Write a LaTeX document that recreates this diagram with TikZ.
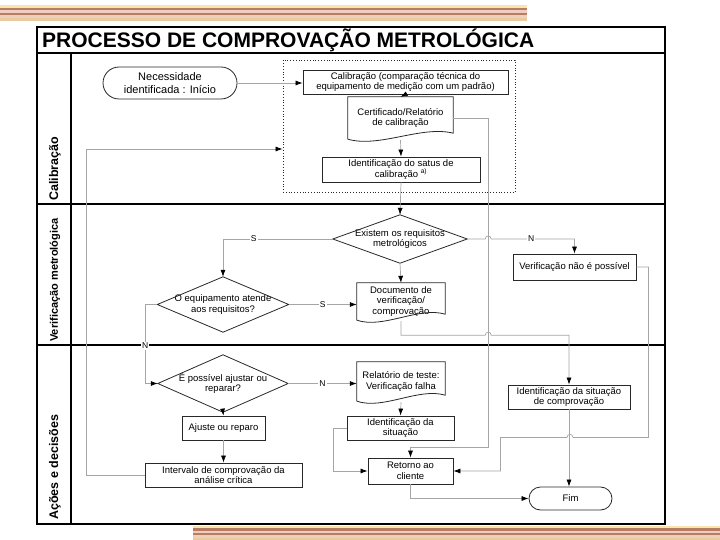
\documentclass[tikz,border=0pt]{standalone}
\usepackage{fontspec}
\setmainfont{Liberation Sans}
\usepackage{tikz}
\usetikzlibrary{arrows.meta, positioning, calc}
\definecolor{flowgray}{RGB}{165,165,165}
\definecolor{boxdark}{RGB}{40,40,40}
\definecolor{stripecream}{RGB}{250,228,175}
\definecolor{stripebrown}{RGB}{184,124,100}
\definecolor{stripepink}{RGB}{240,206,190}
\definecolor{stripetan}{RGB}{232,204,160}

\begin{document}
\begin{tikzpicture}[x=1pt, y=-1pt,
    boxtext/.style={align=center, font=\fontsize{9.5}{10.5}\selectfont, inner sep=1pt},
    procbox/.style={boxtext, draw=boxdark, line width=0.8pt, fill=white},
    termbox/.style={procbox, rounded corners=#1},
    docbox/.style={boxtext},
    decbox/.style={boxtext, inner sep=0pt},
    shapeline/.style={draw=boxdark, line width=0.8pt},
    flow/.style={draw=flowgray, line width=0.7pt},
    flowarrow/.style={flow, -{Latex[length=7pt, width=5pt, color=black]}},
    yesno/.style={font=\fontsize{8.5}{9}\selectfont, fill=white, inner sep=1pt},
    laneline/.style={line width=1.6pt, black},
    lanetitle/.style={rotate=90, anchor=west, font=\fontsize{12.5}{14}\selectfont\bfseries, inner sep=0pt}]
    \useasboundingbox (0,0) rectangle (720,540);

    % Decorative stripes
    \foreach \c [count=\i] in {stripecream,stripebrown,stripepink,stripebrown,stripepink,stripetan} {
        \fill[\c] (0,{2.5+\i*2.6}) rectangle (527,{5.1+\i*2.6});
        \fill[\c] (193,{523.7+\i*2.3}) rectangle (720,{526+\i*2.3});
    }

    % Swimlane frame
    \draw[laneline] (37,27) rectangle (665,524);
    \draw[laneline] (37,53) -- (665,53);
    \draw[laneline] (71,53) -- (71,524);
    \draw[laneline] (37,204) -- (665,204);
    \draw[laneline] (37,345) -- (665,345);
    \node[anchor=west, font=\fontsize{21}{24}\selectfont\bfseries, inner sep=0pt] (title) at (42,40) {PROCESSO DE COMPROVAÇÃO METROLÓGICA};
    \node[lanetitle] (lanecal) at (55,201) {Calibração};
    \node[lanetitle, font=\fontsize{11}{13}\selectfont\bfseries] (laneverif) at (55,342) {Verificação metrológica};
    \node[lanetitle] (laneacoes) at (55,520) {Ações e decisões};

    % Calibration group
    \node[draw=boxdark, dotted, line width=0.8pt, minimum width=232pt, minimum height=132pt] (calgrp) at (399,126) {};
    \node[termbox=16pt, minimum width=134pt, minimum height=32pt, font=\fontsize{11}{13}\selectfont] (start) at (170,83) {Necessidade\\identificada : Início};
    \node[procbox, minimum width=205pt, minimum height=24pt] (calib) at (405.5,82) {Calibração (comparação técnica do\\equipamento de medição com um padrão)};
    \node[docbox, minimum width=105pt, minimum height=42pt] (cert) at (400.5,118) {Certificado/Relatório\\de calibração};
    \node[procbox, minimum width=158pt, minimum height=25pt] (idstat) at (401,169.5) {Identificação do satus de\\calibração \textsuperscript{a)}};

    % Verification lane
    \node[decbox, minimum width=134pt, minimum height=48pt] (reqdec) at (400,239) {Existem os requisitos\\metrológicos};
    \node[decbox, minimum width=131pt, minimum height=55pt] (okdec) at (223,304.5) {O equipamento atende\\aos requisitos?};
    \node[docbox, minimum width=88pt, minimum height=37pt] (docver) at (401,301.5) {Documento de\\verificação/\\comprovação};
    \node[procbox, minimum width=123pt, minimum height=26pt] (nopos) at (574.5,267) {Verificação não é possível};

    % Actions lane
    \node[decbox, minimum width=130pt, minimum height=57pt] (fixdec) at (223,383.5) {É possível ajustar ou\\reparar?};
    \node[docbox, minimum width=88pt, minimum height=39pt] (relat) at (401,381.5) {Relatório de teste:\\Verificação falha};
    \node[procbox, minimum width=107pt, minimum height=24pt] (idsit) at (400.5,428) {Identificação da\\situação};
    \node[procbox, minimum width=122pt, minimum height=24pt] (idcomp) at (569,397) {Identificação da situação\\de comprovação};
    \node[procbox, minimum width=83pt, minimum height=24pt] (ajuste) at (223.5,428) {Ajuste ou reparo};
    \node[procbox, minimum width=157pt, minimum height=24pt] (interv) at (223.5,475) {Intervalo de comprovação da\\análise crítica};
    \node[procbox, minimum width=85pt, minimum height=26pt] (retorno) at (410.5,471) {Retorno ao\\cliente};
    \node[termbox=11.5pt, minimum width=83pt, minimum height=23pt] (fim) at (570.5,498.5) {Fim};

    % Document and decision outlines
    \foreach \n in {cert,docver,relat}
        \draw[shapeline] (\n.south west) -- (\n.north west) -- (\n.north east) -- ($(\n.south east)+(0,-6)$)
            .. controls ($(\n.south east)!0.3!(\n.south west)+(0,-14)$) and ($(\n.south west)!0.3!(\n.south east)+(0,9)$) .. (\n.south west);
    \foreach \n in {reqdec,okdec,fixdec}
        \draw[shapeline] (\n.north) -- (\n.east) -- (\n.south) -- (\n.west) -- cycle;

    % Bend points
    \coordinate (certbend) at ($(cert.east)+(35,0)$);
    \coordinate (hopreq) at (reqdec.east -| certbend);
    \coordinate (docturn) at ($(docver.south)+(0,15)$);
    \coordinate (hopdoc) at (docturn -| certbend);
    \coordinate (noposr) at ($(nopos.east)+(12,0)$);
    \coordinate (hopfim) at ($(idcomp.south)+(1,28)$);
    \coordinate (retr) at ($(retorno.east)+(47,0)$);

    % Connectors
    \draw[flowarrow] (start.east) -- (start.east -| calib.west);
    \draw[flowarrow] (calib.south) -- (cert.north);
    \draw[flowarrow] ($(cert.south)+(0,1)$) -- (idstat.north);
    \draw[flowarrow] (idstat.south) -- (reqdec.north);
    \draw[flowarrow] (reqdec.west) -| node[yesno, pos=0.36] {S} (okdec.north);
    \draw[flowarrow] (reqdec.east) -- ($(hopreq)+(-3,0)$) .. controls +(0,-4) and +(0,-4) .. ($(hopreq)+(3,0)$)
        -| node[yesno, pos=0.24] {N} (nopos.north);
    \draw[flowarrow] (cert.east) -- (certbend) |- ($(retorno.north)+(0,-10)$) -- (retorno.north);
    \draw[flowarrow] (okdec.east) -- node[yesno] {S} (okdec.east -| docver.west);
    \draw[flowarrow] (reqdec.south) -- (docver.north);
    \draw[flowarrow] ($(docver.south)+(0,1)$) -- (docturn) -- ($(hopdoc)+(-3,0)$) .. controls +(0,-4) and +(0,-4) .. ($(hopdoc)+(3,0)$)
        -| (idcomp.north);
    \draw[flowarrow] (nopos.east) -- (noposr) |- ($(hopfim)+(3,0)$) .. controls +(0,-4) and +(0,-4) .. ($(hopfim)+(-3,0)$)
        -| (retr) -- (retorno.east);
    \draw[flowarrow] (idcomp.south) -- (idcomp.south |- fim.north);
    \draw[flowarrow] (retorno.south) |- (fim.west);
    \draw[flowarrow] (okdec.west) -- ++(-12,0) |- node[yesno, pos=0.26] {N} (fixdec.west);
    \draw[flowarrow] (fixdec.east) -- node[yesno] {N} (fixdec.east -| relat.west);
    \draw[flowarrow] ($(relat.south)+(0,1)$) -- (idsit.north);
    \draw[flowarrow] (idsit.west) -- ++(-13,0) |- (retorno.west);
    \draw[flowarrow] (fixdec.south) -- (ajuste.north);
    \draw[flowarrow] (ajuste.south) -- (interv.north);
    \draw[flowarrow] (interv.west) -- ++(-58,0) |- ($(calgrp.west)+(0,23)$);
\end{tikzpicture}
\end{document}
